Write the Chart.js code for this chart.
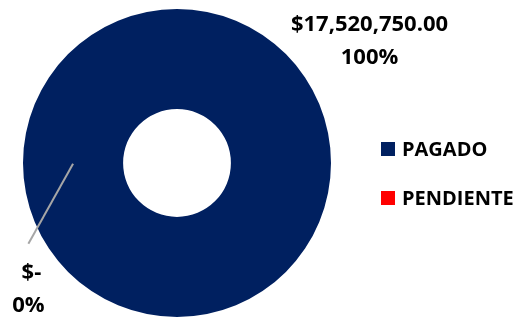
<!DOCTYPE html>
<html><head><meta charset="utf-8">
<script src="https://cdn.jsdelivr.net/npm/chart.js@4"></script>
<style>html,body{margin:0;padding:0;background:#fff}#wrap{width:531px;height:318px}</style>
</head><body><div id="wrap"><canvas id="c" width="531" height="318"></canvas></div>
<script>
const categories = ["PAGADO", "PENDIENTE"];
const values = [17520750, 0];
const valueLabels = ["$17,520,750.00", "$-"];
const percentLabels = ["100%", "0%"];
const colors = ["#002060", "#FF0000"];
const LABEL_FONT = "bold 22px 'Open Sans', sans-serif";
const LEGEND_FONT = "bold 20px 'Open Sans', sans-serif";

const labelPlugin = {
  id: 'labels',
  afterDraw(chart) {
    const ctx = chart.ctx;
    const arc = chart.getDatasetMeta(0).data[0];
    const cx = arc.x, cy = arc.y, r = arc.outerRadius;
    ctx.save();
    ctx.font = LABEL_FONT;
    ctx.fillStyle = "#000";
    ctx.textAlign = "center";
    ctx.textBaseline = "middle";
    // main slice label (upper right, outside)
    const lx = cx + r * 1.25, ly = cy - r * 0.9;
    ctx.fillText(valueLabels[0], lx, ly);
    ctx.fillText(percentLabels[0], lx, ly + 33);
    // zero slice leader line + label
    ctx.strokeStyle = "#A6A6A6";
    ctx.lineWidth = 2;
    ctx.beginPath();
    ctx.moveTo(cx - r * 0.675, cy + r * 0.005);
    ctx.lineTo(cx - r * 0.965, cy + r * 0.525);
    ctx.stroke();
    const zx = cx - r * 0.965, zy = cy + r * 0.71;
    ctx.fillText(valueLabels[1], zx + 3, zy);
    ctx.fillText(percentLabels[1], zx, zy + 33);
    // legend
    ctx.font = LEGEND_FONT;
    ctx.textAlign = "left";
    const legX = 381, legY = [149, 198];
    categories.forEach((c, i) => {
      ctx.fillStyle = colors[i];
      ctx.fillRect(legX, legY[i] - 7, 14, 14);
      ctx.fillStyle = "#000";
      ctx.fillText(c, legX + 21, legY[i] + 1);
    });
    ctx.restore();
  }
};

new Chart(document.getElementById('c'), {
  type: 'doughnut',
  data: {
    labels: categories,
    datasets: [{ data: values, backgroundColor: colors, borderWidth: 0, hoverOffset: 0 }]
  },
  options: {
    responsive: false,
    animation: false,
    cutout: '35%',
    layout: { padding: { left: 23, right: 200, top: 9, bottom: 1 } },
    plugins: { legend: { display: false }, tooltip: { enabled: false } }
  },
  plugins: [labelPlugin]
});
</script></body></html>
